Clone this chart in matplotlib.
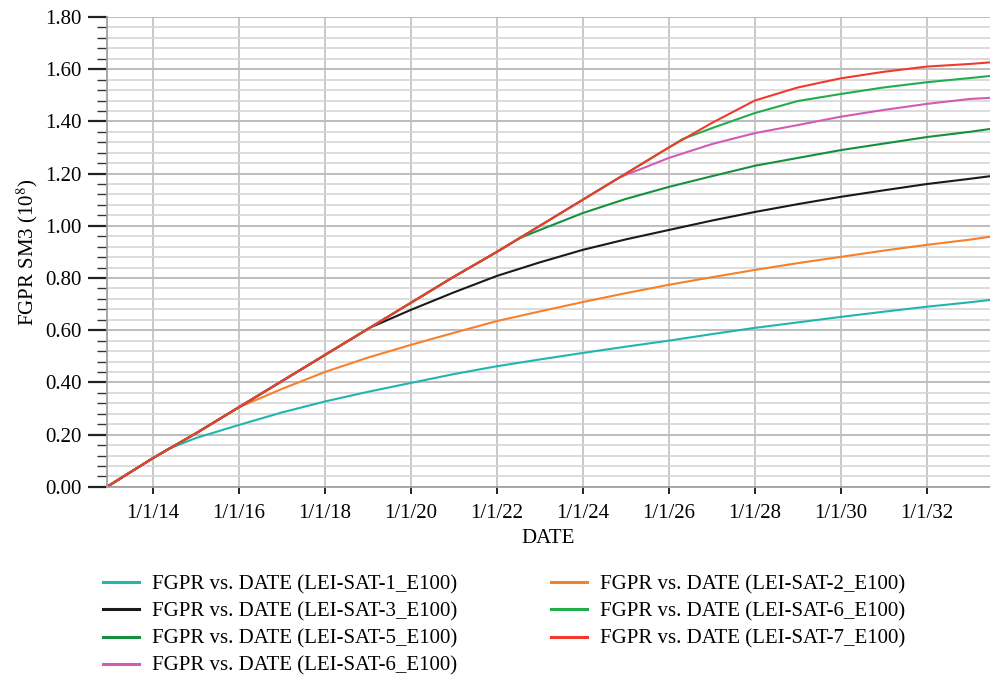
import matplotlib.pyplot as plt
from matplotlib.ticker import MultipleLocator, FixedLocator, FuncFormatter

plt.rcParams["font.family"] = ["Liberation Serif", "DejaVu Serif"]
plt.rcParams["mathtext.fontset"] = "stix"

# years (decimal) and cumulative gas production, 10^8 sm3
yrs_sat7 = [2012.93, 2014, 2015, 2016, 2017, 2018, 2019, 2020, 2021, 2022, 2023,
            2024, 2025, 2026, 2027, 2028, 2029, 2030, 2031, 2032, 2033, 2033.47]
sat7 = [0.0, 0.11, 0.205, 0.305, 0.405, 0.505, 0.605, 0.705, 0.805, 0.90, 1.00,
        1.10, 1.20, 1.30, 1.394, 1.48, 1.53, 1.565, 1.59, 1.61, 1.62, 1.626]

yrs_sat1 = [2012.93, 2014, 2014.35, 2015, 2016, 2017, 2018, 2019, 2020, 2021, 2022,
            2023, 2024, 2025, 2026, 2027, 2028, 2029, 2030, 2031, 2032, 2033, 2033.47]
sat1 = [0.0, 0.11, 0.145, 0.187, 0.237, 0.285, 0.327, 0.364, 0.398, 0.432, 0.462,
        0.488, 0.513, 0.537, 0.56, 0.585, 0.609, 0.63, 0.651, 0.671, 0.69, 0.707, 0.716]

yrs_sat2 = [2012.93, 2014, 2015, 2016, 2017, 2018, 2019, 2020, 2021, 2022, 2023,
            2024, 2025, 2026, 2027, 2028, 2029, 2030, 2031, 2032, 2033, 2033.47]
sat2 = [0.0, 0.11, 0.205, 0.305, 0.375, 0.44, 0.495, 0.544, 0.59, 0.635, 0.672,
        0.708, 0.742, 0.774, 0.803, 0.831, 0.857, 0.881, 0.905, 0.927, 0.947, 0.958]

yrs_sat3 = [2012.93, 2014, 2015, 2016, 2017, 2018, 2019.05, 2020, 2021, 2022, 2023,
            2024, 2025, 2026, 2027, 2028, 2029, 2030, 2031, 2032, 2033, 2033.47]
sat3 = [0.0, 0.11, 0.205, 0.305, 0.405, 0.505, 0.61, 0.678, 0.745, 0.808, 0.86,
        0.908, 0.948, 0.984, 1.02, 1.053, 1.083, 1.111, 1.136, 1.16, 1.18, 1.19]

yrs_sat5 = [2012.93, 2014, 2015, 2016, 2017, 2018, 2019, 2020, 2021, 2022, 2022.53,
            2023, 2024, 2025, 2026, 2027, 2028, 2029, 2030, 2031, 2032, 2033, 2033.47]
sat5 = [0.0, 0.11, 0.205, 0.305, 0.405, 0.505, 0.605, 0.705, 0.805, 0.90, 0.953,
        0.984, 1.049, 1.103, 1.149, 1.19, 1.23, 1.26, 1.29, 1.315, 1.34, 1.36, 1.371]

yrs_sat6 = [2012.93, 2014, 2015, 2016, 2017, 2018, 2019, 2020, 2021, 2022, 2023,
            2024, 2024.86, 2025, 2026, 2027, 2028, 2029, 2030, 2031, 2032, 2033, 2033.47]
sat6 = [0.0, 0.11, 0.205, 0.305, 0.405, 0.505, 0.605, 0.705, 0.805, 0.90, 1.00,
        1.10, 1.186, 1.195, 1.26, 1.313, 1.355, 1.386, 1.418, 1.444, 1.467, 1.486, 1.49]

yrs_sat6b = [2012.93, 2014, 2015, 2016, 2017, 2018, 2019, 2020, 2021, 2022, 2023,
             2024, 2025, 2026, 2026.33, 2027, 2028, 2029, 2030, 2031, 2032, 2033, 2033.47]
sat6b = [0.0, 0.11, 0.205, 0.305, 0.405, 0.505, 0.605, 0.705, 0.805, 0.90, 1.00,
         1.10, 1.20, 1.30, 1.333, 1.374, 1.432, 1.478, 1.505, 1.53, 1.55, 1.566, 1.574]

tick_years = [2014, 2016, 2018, 2020, 2022, 2024, 2026, 2028, 2030, 2032]

fig = plt.figure(figsize=(9.9, 6.79), dpi=100)
ax = fig.add_axes([0.108, 0.283, 0.892, 0.692])

l1, = ax.plot(yrs_sat1, sat1, color="#22b5ae", lw=1.5)
l2, = ax.plot(yrs_sat2, sat2, color="#f7802a", lw=1.5)
l3, = ax.plot(yrs_sat3, sat3, color="#1a1a1a", lw=1.5)
l5, = ax.plot(yrs_sat5, sat5, color="#16903e", lw=1.5)
l6, = ax.plot(yrs_sat6, sat6, color="#d25cb5", lw=1.5)
l6b, = ax.plot(yrs_sat6b, sat6b, color="#22ad4c", lw=1.5)
l7, = ax.plot(yrs_sat7, sat7, color="#f23a2c", lw=1.5)

ax.set_xlim(2012.93, 2033.47)
ax.set_ylim(0, 1.8)

ax.xaxis.set_major_locator(FixedLocator(tick_years))
ax.xaxis.set_major_formatter(FuncFormatter(lambda v, p: "1/1/%02d" % (int(round(v)) % 100)))
ax.yaxis.set_major_locator(MultipleLocator(0.2))
ax.yaxis.set_minor_locator(MultipleLocator(0.04))
ax.yaxis.set_major_formatter(FuncFormatter(lambda v, p: "%.2f" % v))

ax.grid(which="major", axis="x", color="#c4c4c4", lw=1.3)
ax.grid(which="major", axis="y", color="#bdbdbd", lw=1.4)
ax.grid(which="minor", axis="y", color="#d6d6d6", lw=1.2)
ax.set_axisbelow(True)

for s in ["top", "right"]:
    ax.spines[s].set_visible(False)
ax.spines["left"].set_color("#a0a0a0")
ax.spines["bottom"].set_color("#a0a0a0")
ax.spines["left"].set_linewidth(1.3)
ax.spines["bottom"].set_linewidth(1.3)

ax.tick_params(axis="y", which="major", length=14, width=1.6, color="#222222",
               labelsize=15, pad=4)
ax.tick_params(axis="y", which="minor", length=7, width=1.0, color="#333333")
ax.tick_params(axis="x", which="major", length=5, width=1.4, color="#222222",
               labelsize=15, pad=7)

ax.set_xlabel("DATE", fontsize=15, labelpad=5)
ax.set_ylabel("FGPR SM3 (10$^{8}$)", fontsize=15, labelpad=4)

handles = [l1, l3, l5, l6, l2, l6b, l7]
labels = ["FGPR vs. DATE (LEI-SAT-1_E100)", "FGPR vs. DATE (LEI-SAT-3_E100)",
          "FGPR vs. DATE (LEI-SAT-5_E100)", "FGPR vs. DATE (LEI-SAT-6_E100)",
          "FGPR vs. DATE (LEI-SAT-2_E100)", "FGPR vs. DATE (LEI-SAT-6_E100)",
          "FGPR vs. DATE (LEI-SAT-7_E100)"]
leg = fig.legend(handles, labels, loc="upper left", bbox_to_anchor=(0.104, 0.153),
                 ncol=2, frameon=False, fontsize=15, handlelength=1.75,
                 handletextpad=0.6, labelspacing=0.36, columnspacing=4.5,
                 borderaxespad=0, borderpad=0)
for h in leg.legend_handles:
    h.set_linewidth(2.2)

fig.savefig("out.png", dpi=100)
